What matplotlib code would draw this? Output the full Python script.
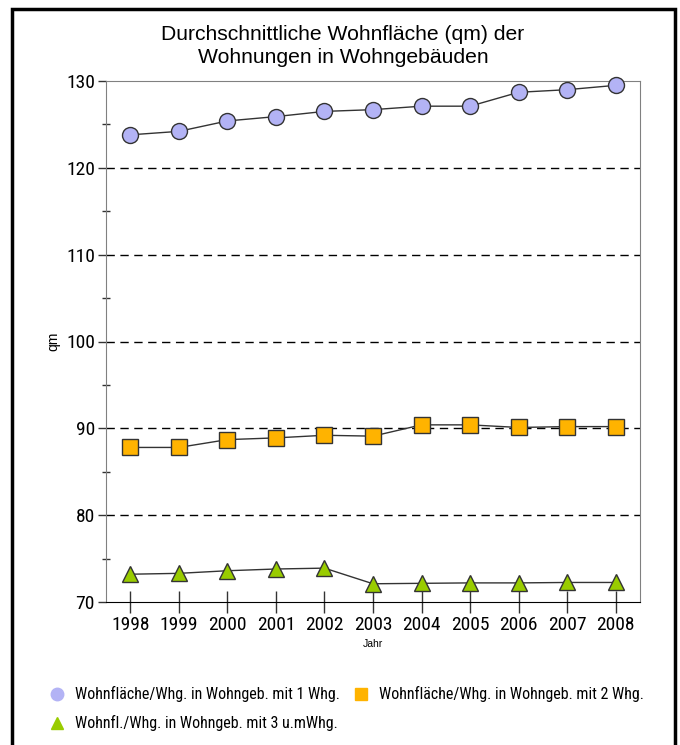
import matplotlib
matplotlib.use("Agg")
import matplotlib.pyplot as plt
from matplotlib.lines import Line2D
from matplotlib.patches import Rectangle
from matplotlib.ticker import MultipleLocator

years = [1998, 1999, 2000, 2001, 2002, 2003, 2004, 2005, 2006, 2007, 2008]
wfl_1whg = [123.8, 124.2, 125.4, 125.9, 126.5, 126.7, 127.1, 127.1, 128.7, 129.0, 129.5]
wfl_2whg = [87.8, 87.8, 88.7, 88.9, 89.2, 89.1, 90.4, 90.4, 90.1, 90.2, 90.2]
wfl_3whg = [73.2, 73.3, 73.6, 73.8, 73.9, 72.1, 72.15, 72.2, 72.2, 72.25, 72.25]

labels = ["Wohnfläche/Whg. in Wohngeb. mit 1 Whg.",
          "Wohnfläche/Whg. in Wohngeb. mit 2 Whg.",
          "Wohnfl./Whg. in Wohngeb. mit 3 u.mWhg."]
colors = ["#b3b3f5", "#ffb300", "#99cc00"]
markers = ["o", "s", "^"]

narrow = ["Roboto Condensed", "Liberation Sans", "DejaVu Sans"]
plt.rcParams["font.family"] = ["Liberation Sans", "DejaVu Sans"]

fig = plt.figure(figsize=(6.8, 7.45), dpi=100)
fig.patches.append(Rectangle((12 / 680, -0.05), 663 / 680, 1.05 - 9 / 745,
                             transform=fig.transFigure, fill=False,
                             edgecolor="black", linewidth=2.5))

ax = fig.add_axes([106 / 680, 1 - 602 / 745, 534 / 680, 521 / 745])

for vals, c, m in zip([wfl_1whg, wfl_2whg, wfl_3whg], colors, markers):
    ax.plot(years, vals, color="#333333", linewidth=1, marker=m,
            markersize=11.5 if m != "^" else 12, markerfacecolor=c,
            markeredgecolor="#333333", markeredgewidth=1, zorder=3,
            clip_on=False)

ax.set_xlim(1997.5, 2008.5)
ax.set_ylim(70, 130)
ax.set_xticks(years)
ax.yaxis.set_major_locator(MultipleLocator(10))
ax.yaxis.set_minor_locator(MultipleLocator(5))

ax.grid(axis="y", color="black", linestyle=(0, (6, 4)), linewidth=1)
ax.set_axisbelow(True)

for s in ["left", "top", "right"]:
    ax.spines[s].set_color("#808080")
ax.spines["bottom"].set_color("black")

ax.tick_params(axis="x", direction="inout", length=16, width=1, color="#333333",
               pad=2, labelsize=14)
ax.tick_params(axis="y", which="major", direction="out", length=6, width=1,
               color="#333333", pad=2, labelsize=14)
ax.tick_params(axis="y", which="minor", direction="inout", length=6, width=1,
               color="#333333")

ax.set_ylabel("qm", fontsize=10, labelpad=4)
ax.set_xlabel("Jahr", fontsize=7.5, labelpad=4)

fig.text(343 / 680, 1 - 46 / 745, "Durchschnittliche Wohnfläche (qm) der\nWohnungen in Wohngebäuden",
         ha="center", va="center", fontsize=15.2, linespacing=1.27)

handles = [Line2D([], [], linestyle="none", marker=m, markersize=9,
                  markerfacecolor=c, markeredgecolor=c)
           for c, m in zip(colors, markers)]
order = [0, 2, 1]
leg = fig.legend([handles[i] for i in order], [labels[i] for i in order],
                 ncol=2, loc="upper left", bbox_to_anchor=(36 / 680, 1 - 672 / 745),
                 frameon=False, handlelength=0.8, handletextpad=0.75,
                 columnspacing=0.9, labelspacing=0.8,
                 prop={"family": narrow, "size": 11.5})

# hide the grid lines that fall on the frame (70 and 130)
fig.canvas.draw()
for tick in ax.yaxis.get_major_ticks():
    if tick.get_loc() <= 70 or tick.get_loc() >= 130:
        tick.gridline.set_visible(False)
for t in ax.get_xticklabels() + ax.get_yticklabels():
    t.set_family(narrow)

fig.savefig("out.png", dpi=100)
